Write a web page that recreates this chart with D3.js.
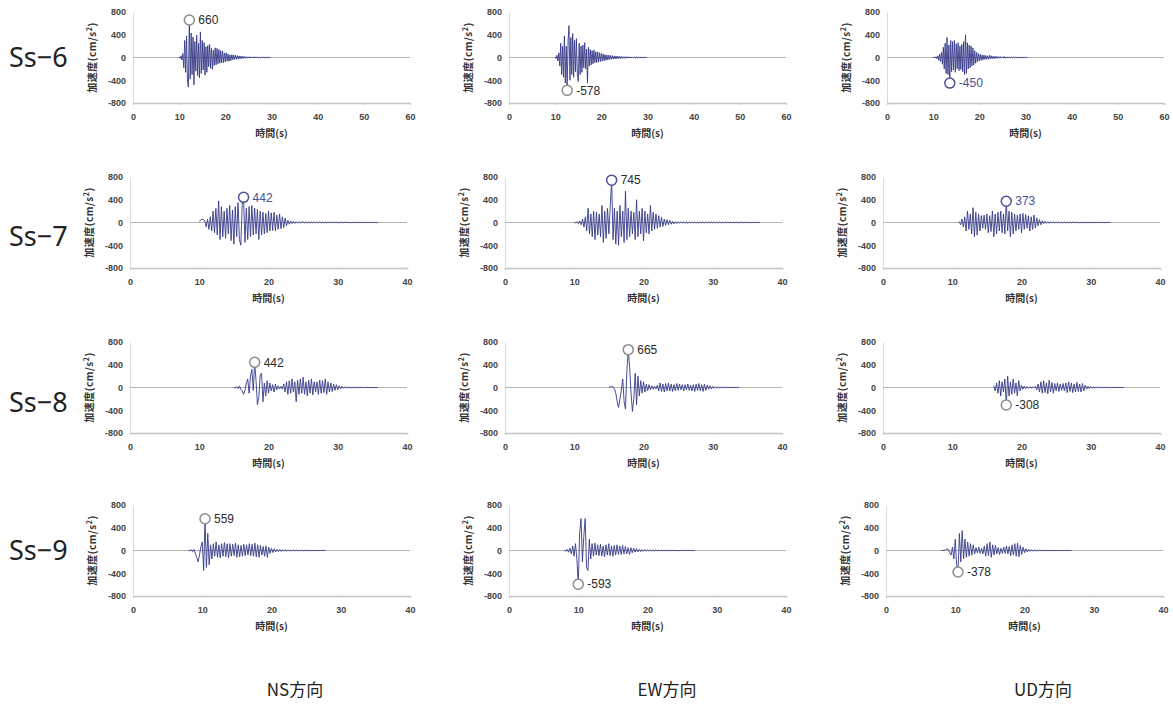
<!DOCTYPE html>
<html>
<head>
<meta charset="utf-8">
<script src="https://cdn.jsdelivr.net/npm/d3@7"></script>
<style>
  body{margin:0;background:#fff}
  .tick text{font-family:"Liberation Sans",Arial,sans-serif;font-size:9px;font-weight:bold;fill:#444}
</style>
</head>
<body>
<div id="chart"></div>
<script>
// row / column names
var rowNames = ["Ss\u22126", "Ss\u22127", "Ss\u22128", "Ss\u22129"]
var dirNames = ["NS方向", "EW方向", "UD方向"]
var xMax = [60, 40, 40, 40]
var yTicks = [800, 400, 0, -400, -800]
var xTicks6 = [0, 10, 20, 30, 40, 50, 60]
var xTicks40 = [0, 10, 20, 30, 40]
var dt = 0.2
// start time (s) of each record below
var waveStart = [[10, 10, 10], [10, 10, 11], [15, 15, 16], [8, 8, 8]]

// acceleration (cm/s2), one value every 0.2 s
var ss6NS = [8,-15,30,-45,70, -180,300,-260,380,-420, -520,660,-380,430,-300, 360,-480,280,-240,390,
  -320,250,-360,450,-280, 300,-220,260,-310,190, -260,210,-160,230,-190, 160,-210,130,-140,170,
  -130,160,-110,140,-100, 120,-90,110,-95,80, -75,85,-65,60,-65, 45,-55,50,-40,45,
  -35,40,-30,32,-25, 28,-22,24,-18,20, -15,18,-12,15,-12, 12,-10,14,-10,9,
  -8,12,-9,10,-8, 9,-7,10,-8,6, -6,8,-6,7,-5, 5,-6,5,-4,0]
var ss6EW = [10,-20,40,-60,80, -150,250,-300,200,-350, 380,-450,200,-578,300, 560,-400,350,-300,420,
  -350,300,-250,330,-280, -420,250,-300,200,-260, 220,-180,260,-200,150, -450,180,-150,140,-130,
  120,-110,130,-90,100, -90,100,-80,85,-70, 70,-65,60,-55,50, -50,45,-40,42,-35,
  35,-30,32,-28,25, -25,28,-22,20,-18, 20,-16,18,-15,14, -14,15,-12,13,-10,
  12,-10,10,-8,9, -8,9,-7,8,-6, 6,-7,6,-5,5, -5,5,-4,4,0]
var ss6UD = [0,5,-10,15,-20, 30,-50,60,-70,90, -120,180,-200,250,-280, 350,-300,220,-450,300,
  -250,280,-220,300,-260, 240,-200,260,-230,200, -210,230,-250,280,-300, 400,-280,260,-200,220,
  -180,200,-150,170,-130, 120,-100,90,-80,70, -60,55,-50,45,-40, 40,-35,35,-30,28,
  -30,40,-25,30,-20, 22,-18,20,-15,18, -15,16,-12,14,-12, 12,-10,18,-12,10,
  -9,10,-8,9,-7, 7,-6,7,-5,6, -5,6,-5,5,-4, 4,-4,4,-3,3, -3,2,0]

var ss7NS = [20,40,60,50,30, -80,60,-120,100,-150, 200,-180,250,-220,380, -300,280,-250,200,-280,
  250,-200,300,-320,220, -380,280,-250,350,-300, -400,300,442,-350,250, -300,280,-250,300,-220,
  250,-200,230,-300,200, -220,180,-200,160,-180, 200,-150,170,-140,180, -150,130,-120,150,-110,
  100,-90,80,-60,40, -30,25,-20,20,-15, 15,-12,14,-10,12,
  10,-8,12,-9,8, -10,9,-7,10,-8, 8,-6,9,-7,6, -8,7,-6,8,-5, 6,-5,7,-6,5, -6,5,-4,6,-5,
  5,-4,5,-3,4, -4,5,-3,4,-3, 3,-4,3,-3,4, -3,3,-2,3,-2, 2,-2,3,-2,0]
var ss7EW = [5,-10,15,-20,25, -40,60,-80,100,-150, 250,-200,150,-250,200, -300,180,-220,150,-250,
  300,-350,200,-280,250, -200,300,745,-300,250, -380,200,-400,300,-250, 200,-350,550,-300,250,
  -250,200,-200,180,-300, 400,-250,200,-200,250, -320,200,-180,150,-200, 300,-150,180,-120,150,
  -100,120,-80,90,-70, 60,-50,50,-40,40, -30,20,-25,15,-20,
  14,-10,12,-9,10, -10,8,-12,9,-8, 10,-8,9,-10,7, -9,10,-7,8,-9, 8,-7,10,-8,9, -8,9,-7,8,-6,
  7,-8,6,-7,8, -6,7,-5,6,-7, 6,-5,7,-6,5, -5,6,-4,5,-5, 4,-5,4,-3,4, -3,4,-3,3,0]
var ss7UD = [20,-40,60,-80,100, -150,200,-120,150,-200, 260,-250,180,-220,150, -150,120,-100,130,-120,
  150,-180,120,-160,200, -250,150,-200,180,-150, 200,-180,150,-200,373, -150,200,-250,180,-200,
  150,-150,130,-120,150, -180,160,-120,140,-100, 120,-150,100,-120,130, -100,80,-60,50,-40,
  30,-20,20,-15,15, -14,12,-10,12,-9, 10,-8,9,-7,8, -8,7,-9,6,-7,
  7,-6,8,-5,6, -6,7,-5,6,-5, 5,-6,4,-5,6, -5,4,-5,4,-4, 4,-3,4,-3,3, -3,3,-2,3,0]

var ss8NS = [5,-10,15,-20,25, -30,-60,-120,-50,80, 150,-100,200,320,-50, 442,120,-300,-180,220,
  250,-250,80,-150,120, -100,80,-60,50,-80, 60,-40,30,-25,20, -30,60,-80,100,-120,
  120,-100,150,-80,100, -250,130,-120,150,-100, 180,-120,100,-150,130, -100,150,-130,100,-80,
  100,-120,130,-100,120, -90,150,-120,100,-80, 80,-70,60,-50,50, -40,30,-25,20,-15,
  14,-12,10,-9,8, -8,7,-9,6,-6, 6,-5,7,-5,4, -5,4,-4,3,-3, 3,-3,2,-2,0]
var ss8EW = [5,10,20,10,-20, -100,-250,-350,-200,-50, 150,-250,-380,300,665, 350,-100,-420,-200,250,
  -300,200,-150,120,-100, 100,-80,60,-60,50, -40,30,-30,20,-25, 40,-60,80,-70,60,
  -80,70,-60,80,-60, 60,-70,50,-60,70, -50,60,-40,50,-60, 50,-40,60,-50,40,
  -60,50,-70,60,-50, 70,-60,50,-70,60, -50,40,-30,30,-25, 20,-15,15,-12,10,
  -9,8,-7,8,-6, 6,-5,5,-4,4, -4,3,-3,3,0]
var ss8UD = [30,-60,80,-100,120, -150,100,-80,150,-308, 200,-150,100,-120,150, -100,80,-150,120,-60,
  40,-30,25,-20,15, -15,10,-10,8,-8, 20,-40,60,-80,100, -100,120,-90,80,-110,
  130,-80,90,-100,70, -60,80,-70,60,-50, 70,-60,80,-90,100, -70,80,-90,60,-80,
  90,-70,60,-80,70, -60,40,-30,25,-20, 15,-12,10,-10,8, -8,7,-6,6,-5,
  5,-5,4,-4,4, -4,3,-3,3,-3, 3,-2,3,-2,0]

var ss9NS = [5,-10,15,-20,20, -50,-120,-200,-80,60, 150,-350,559,-300,300, -250,100,-150,120,-100,
  150,-120,100,-130,120, -100,140,-110,120,-130, 120,-100,110,-90,130, -120,100,-110,90,-100,
  110,-90,100,-80,120, -90,110,-100,130,-110, 100,-120,90,-80,70, -100,80,-120,60,-50,
  40,-35,30,-25,20, -20,18,-15,15,-12, 12,-10,10,-9,8, -8,9,-7,6,-7,
  6,-5,6,-5,5, -5,4,-5,4,-4, 4,-4,3,-3,3, -3,3,-2,2,0]
var ss9EW = [5,-15,20,-30,40, -60,80,-100,120,-150, -593,300,560,-200,250, 560,-300,-350,200,-150,
  120,-100,130,-80,100, -90,110,-100,80,-110, 100,-80,120,-90,80, -100,90,-80,100,-70,
  80,-70,90,-60,70, -60,50,-70,50,-40, 40,-30,35,-25,20, -20,18,-15,15,-12,
  12,-10,10,-9,8, -8,9,-7,6,-7, 6,-5,6,-5,5, -5,4,-5,4,-4,
  4,-4,3,-3,3, -3,3,-2,2,-2, 2,-2,2,-1,0]
var ss9UD = [0,0,5,10,30, 20,-40,-80,60,-150, 200,-250,-378,300,-200, 350,-150,200,-120,150,
  -100,120,-80,100,-60, 50,-40,60,-50,40, -60,80,-100,120,-90, 150,-120,100,-80,90,
  -60,50,-70,40,-50, 60,-50,80,-60,70, -90,100,-80,120,-100, 130,-110,90,-70,60,
  -40,30,-25,20,-15, 15,-12,10,-10,8, -8,7,-6,6,-5, 5,-5,4,-4,4,
  -4,3,-3,3,-3, 3,-2,2,-2,2, -2,2,-1,1,0]

var waves = [[ss6NS, ss6EW, ss6UD], [ss7NS, ss7EW, ss7UD], [ss8NS, ss8EW, ss8UD], [ss9NS, ss9EW, ss9UD]]

// layout
var W = 1173, H = 708
var colX = [[133, 509, 887], [130, 505, 883], [130, 505, 883], [133, 509, 886]]
var rowTop = [12, 177, 342, 505]
var plotW = 277, plotH = 91
var rowLabelY = [57, 236, 402, 550]
var dirX = [295, 667, 1043]
var gray = '#8c8c8c', blue = '#4a5196', dark = '#2a2a2a'
var markColor = [[gray, gray, blue], [blue, blue, blue], [gray, gray, gray], [gray, gray, gray]]
var textColor = [[dark, dark, blue], [blue, dark, blue], [dark, dark, dark], [dark, dark, dark]]
var waveColor = '#353a88'

var svg = d3.select('#chart').append('svg')
  .attr('width', W)
  .attr('height', H)
  .style('font-family', '"Noto Sans CJK JP", "Noto Sans", sans-serif')

rowNames.forEach(function(name, r){
  svg.append('text')
    .attr('x', 9)
    .attr('y', rowLabelY[r])
    .attr('dy', '0.36em')
    .attr('font-size', 27)
    .attr('font-family', '"Noto Sans", sans-serif')
    .attr('fill', '#222')
    .text(name)

  dirNames.forEach(function(d, c){
    var g = svg.append('g').attr('transform', 'translate(' + colX[r][c] + ',' + rowTop[r] + ')')
    var x = d3.scaleLinear().domain([0, xMax[r]]).range([0, plotW])
    var y = d3.scaleLinear().domain([-800, 800]).range([plotH, 0])

    // y axis
    var ya = g.append('g').call(d3.axisLeft(y).tickValues(yTicks).tickSize(0).tickPadding(7)
      .tickFormat(function(v){ return String(v) }))
    ya.select('.domain').attr('stroke', '#dcdcdc')

    // x axis on the -800 line
    var xa = g.append('g').attr('transform', 'translate(0,' + plotH + ')')
      .call(d3.axisBottom(x).tickValues(xMax[r] == 60 ? xTicks6 : xTicks40).tickSize(2).tickPadding(9)
        .tickFormat(function(v){ return String(v) }))
    xa.select('.domain').attr('stroke', '#c4c4c4').attr('stroke-width', 1.5)
    xa.selectAll('.tick line').attr('stroke', '#d0d0d0')

    // zero line
    g.append('line')
      .attr('x1', 0).attr('x2', plotW)
      .attr('y1', y(0)).attr('y2', y(0))
      .attr('stroke', '#b4b4b4').attr('stroke-width', 1.2)

    // labels
    g.append('text')
      .attr('transform', 'translate(-41,' + (plotH / 2) + ') rotate(-90)')
      .attr('text-anchor', 'middle')
      .attr('dy', '0.35em')
      .attr('font-size', 10)
      .attr('letter-spacing', 0.5)
      .attr('font-weight', 'bold')
      .attr('fill', '#333')
      .html('加速度(cm/s<tspan dy="-4" font-size="7">2</tspan><tspan dy="4">)</tspan>')
    g.append('text')
      .attr('x', plotW / 2)
      .attr('y', plotH + 30)
      .attr('text-anchor', 'middle')
      .attr('dy', '0.35em')
      .attr('font-size', 10)
      .attr('font-weight', 'bold')
      .attr('fill', '#333')
      .text('時間(s)')

    // waveform
    var data = waves[r][c]
    var t0 = waveStart[r][c]
    var line = d3.line()
      .x(function(v, i){ return x(t0 + i * dt) })
      .y(function(v){ return y(v) })
    g.append('path')
      .datum(data)
      .attr('d', line)
      .attr('fill', 'none')
      .attr('stroke', waveColor)
      .attr('stroke-width', 0.9)
      .attr('stroke-linejoin', 'round')

    // peak marker
    var pi = d3.maxIndex(data, function(v){ return Math.abs(v) })
    var pv = data[pi]
    var px = x(t0 + pi * dt), py = y(pv)
    g.append('circle')
      .attr('cx', px).attr('cy', py).attr('r', 5)
      .attr('fill', 'white')
      .attr('stroke', markColor[r][c])
      .attr('stroke-width', 1.5)
    g.append('text')
      .attr('x', px + 9)
      .attr('y', py)
      .attr('dy', '0.35em')
      .attr('font-size', 12)
      .attr('font-family', '"Liberation Sans", Arial, sans-serif')
      .attr('fill', textColor[r][c])
      .text(String(pv))
  })
})

dirNames.forEach(function(d, c){
  svg.append('text')
    .attr('x', dirX[c])
    .attr('y', 690)
    .attr('text-anchor', 'middle')
    .attr('dy', '0.35em')
    .attr('font-size', 17)
    .attr('fill', '#222')
    .text(d)
})
</script>
</body>
</html>
